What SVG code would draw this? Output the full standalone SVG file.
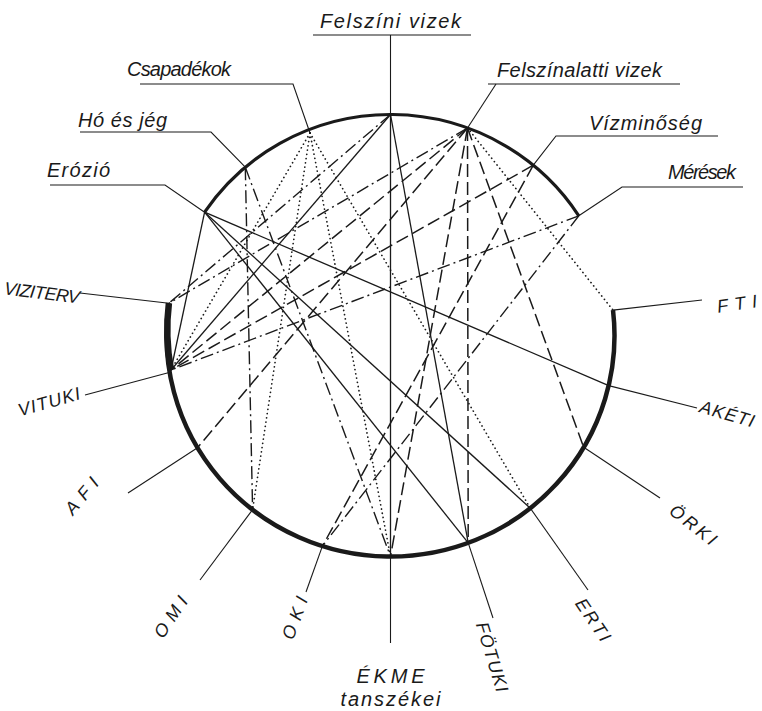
<svg xmlns="http://www.w3.org/2000/svg" width="762" height="711" viewBox="0 0 762 711">
<style>
.bg{fill:#ffffff}
.ring{fill:none;stroke:#1a1a1a;stroke-linecap:butt}
.ld{stroke:#1a1a1a;stroke-width:1.1;fill:none}
.s{stroke:#1a1a1a;stroke-width:1.3;fill:none}
.d{stroke:#1a1a1a;stroke-width:1.5;fill:none;stroke-dasharray:13 5}
.dd{stroke:#1a1a1a;stroke-width:1.4;fill:none;stroke-dasharray:13 4 2 4}
.o{stroke:#1a1a1a;stroke-width:1.7;fill:none;stroke-dasharray:0.1 4.2;stroke-linecap:round}
.t{font-family:"Liberation Sans",Arial,sans-serif;font-style:italic;font-size:20px;fill:#1a1a1a}
.i{font-family:"Liberation Sans",Arial,sans-serif;font-style:italic;font-size:18px;fill:#1a1a1a;text-anchor:middle}
</style>
<rect class="bg" x="0" y="0" width="762" height="711"/>

<g id="ring">
<path class="ring" stroke-width="3.2" d="M 204.6 212.2 A 224 221 0 0 1 578.8 215.8"/>
<path class="ring" stroke-width="4.5" d="M 613 310.1 A 224 221 0 1 1 168.9 303.2"/>
<path class="ring" stroke-width="6.5" d="M 171 370 A 224 221 0 0 1 168.9 303.2"/>
</g>

<g id="connectors">
<line class="s" x1="390.5" y1="114.5" x2="390.5" y2="556.5"/>
<line class="s" x1="390.5" y1="114.5" x2="468.2" y2="542.8"/>
<line class="s" x1="390.5" y1="114.5" x2="171" y2="370"/>
<line class="s" x1="204.6" y1="212.2" x2="171" y2="370"/>
<line class="s" x1="204.6" y1="212.2" x2="608.7" y2="385.6"/>
<line class="s" x1="204.6" y1="212.2" x2="530.3" y2="508.2"/>
<line class="s" x1="204.6" y1="212.2" x2="468.2" y2="542.8"/>

<line class="d" x1="467.5" y1="128" x2="390.5" y2="556.5"/>
<line class="d" x1="467.5" y1="128" x2="468.2" y2="542.8"/>
<line class="d" x1="467.5" y1="128" x2="583.7" y2="447.3"/>
<line class="d" x1="467.5" y1="128" x2="197.5" y2="447.7"/>
<line class="d" x1="467.5" y1="128" x2="171" y2="370"/>
<line class="d" x1="533.3" y1="165.2" x2="171" y2="370"/>
<line class="d" x1="533.3" y1="165.2" x2="322.4" y2="546.1"/>

<line class="dd" x1="390.5" y1="114.5" x2="168.9" y2="303.2"/>
<line class="dd" x1="467.5" y1="128" x2="168.9" y2="303.2"/>
<line class="dd" x1="578.8" y1="215.8" x2="171" y2="370"/>
<line class="dd" x1="578.8" y1="215.8" x2="322.4" y2="546.1"/>
<line class="dd" x1="245.3" y1="167.2" x2="252.6" y2="509.6"/>
<line class="dd" x1="245.3" y1="167.2" x2="390.5" y2="556.5"/>

<line class="o" x1="467.5" y1="128" x2="613" y2="310.1"/>
<line class="o" x1="310" y1="133" x2="171" y2="370"/>
<line class="o" x1="310" y1="133" x2="252.6" y2="509.6"/>
<line class="o" x1="310" y1="133" x2="390.5" y2="556.5"/>
<line class="o" x1="310" y1="133" x2="530.3" y2="508.2"/>
</g>

<g id="felszini-vizek">
<text class="t" x="320" y="28" textLength="141" lengthAdjust="spacing">Felszíni vizek</text>
<line class="ld" x1="313" y1="35" x2="471" y2="35"/>
<line class="ld" x1="390.5" y1="35" x2="390.5" y2="114.5"/>
</g>
<g id="csapadekok">
<text class="t" x="127" y="76" textLength="104" lengthAdjust="spacing">Csapadékok</text>
<polyline class="ld" points="140,84 293,84 310,133"/>
</g>
<g id="felszinalatti-vizek">
<text class="t" x="497" y="77" textLength="165" lengthAdjust="spacing">Felszínalatti vizek</text>
<line class="ld" x1="488" y1="84" x2="680" y2="84"/>
<line class="ld" x1="496" y1="84" x2="467.5" y2="128"/>
</g>
<g id="vizminoseg">
<text class="t" x="589" y="130" textLength="113" lengthAdjust="spacing">Vízminőség</text>
<polyline class="ld" points="718,136 556,136 533.3,165.2"/>
</g>
<g id="meresek">
<text class="t" x="668" y="179" textLength="68" lengthAdjust="spacing">Mérések</text>
<polyline class="ld" points="743,187 622,187 578.8,215.8"/>
</g>
<g id="ho-es-jeg">
<text class="t" x="78" y="127" textLength="89" lengthAdjust="spacing">Hó és jég</text>
<polyline class="ld" points="80,132 211,132 245.3,167.2"/>
</g>
<g id="erozio">
<text class="t" x="47" y="177" textLength="63" lengthAdjust="spacing">Erózió</text>
<polyline class="ld" points="50,185 165,185 204.6,212.2"/>
</g>

<g id="viziterv">
<line class="ld" x1="80" y1="293" x2="168.9" y2="303.2"/>
<text class="i" transform="translate(42,293) rotate(7)" y="6" textLength="76" lengthAdjust="spacing">VIZITERV</text>
</g>
<g id="vituki">
<line class="ld" x1="85" y1="395" x2="171" y2="372"/>
<text class="i" transform="translate(49,402) rotate(-16)" y="6" textLength="64" lengthAdjust="spacing">VITUKI</text>
</g>
<g id="afi">
<line class="ld" x1="128" y1="493" x2="197.5" y2="447.7"/>
<text class="i" transform="translate(82,496) rotate(-50)" y="6" textLength="42" lengthAdjust="spacing">AFI</text>
</g>
<g id="omi">
<line class="ld" x1="200" y1="580" x2="252.6" y2="509.6"/>
<text class="i" transform="translate(171,617) rotate(-56)" y="6" textLength="46" lengthAdjust="spacing">OMI</text>
</g>
<g id="oki">
<line class="ld" x1="306" y1="592" x2="322.4" y2="546.1"/>
<text class="i" transform="translate(295,618) rotate(-70)" y="6" textLength="44" lengthAdjust="spacing">OKI</text>
</g>
<g id="ekme">
<line class="ld" x1="390.5" y1="556.5" x2="390.5" y2="643"/>
<text class="t" x="390.5" y="683" text-anchor="middle" textLength="68" lengthAdjust="spacing">ÉKME</text>
<text class="t" x="390.5" y="706" text-anchor="middle" textLength="100" lengthAdjust="spacing">tanszékei</text>
</g>
<g id="fotuki">
<line class="ld" x1="468.2" y1="542.8" x2="493" y2="618"/>
<text class="i" transform="translate(492,657) rotate(73)" y="6" textLength="72" lengthAdjust="spacing">FÖTUKI</text>
</g>
<g id="erti">
<line class="ld" x1="530.3" y1="508.2" x2="588" y2="590"/>
<text class="i" transform="translate(593,620) rotate(56)" y="6" textLength="48" lengthAdjust="spacing">ERTI</text>
</g>
<g id="orki">
<line class="ld" x1="583.7" y1="447.3" x2="660" y2="498"/>
<text class="i" transform="translate(693,525) rotate(38)" y="6" textLength="54" lengthAdjust="spacing">ÖRKI</text>
</g>
<g id="aketi">
<line class="ld" x1="608.7" y1="385.6" x2="697" y2="408"/>
<text class="i" transform="translate(727,414) rotate(16)" y="6" textLength="56" lengthAdjust="spacing">AKÉTI</text>
</g>
<g id="fti">
<line class="ld" x1="613" y1="310.1" x2="702" y2="300"/>
<text class="i" transform="translate(737,304) rotate(-8)" y="6" textLength="40" lengthAdjust="spacing">FTI</text>
</g>
</svg>
